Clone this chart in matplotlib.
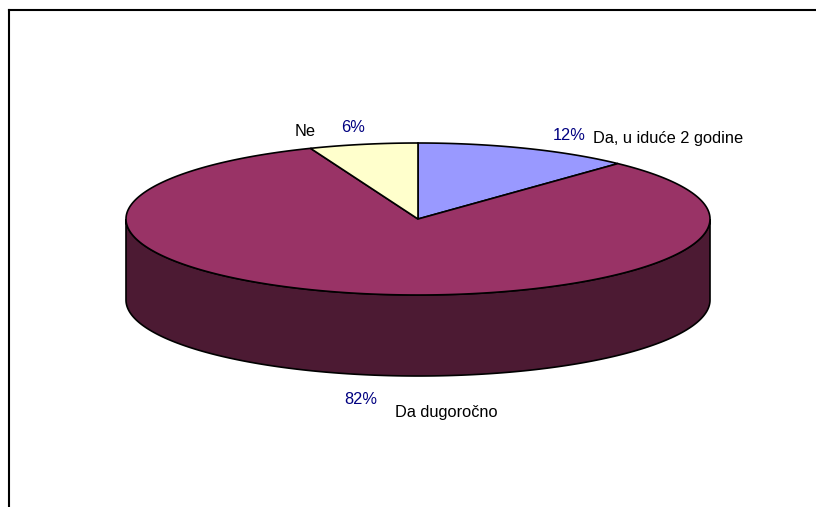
import numpy as np
import matplotlib.pyplot as plt
from matplotlib.patches import Polygon

plt.rcParams['font.family'] = ['Liberation Sans', 'DejaVu Sans']

# data
labels = ['Da, u iduće 2 godine', 'Da dugoročno', 'Ne']
shares = [12, 82, 6]
top_colors = ['#9999FF', '#993366', '#FFFFCC']
side_colors = ['#4D4D80', '#4C1A33', '#808066']

# geometry of the 3d pie (pixel space)
cx, cy = 418, 219
rx, ry = 292, 76
depth = 81

fig = plt.figure(figsize=(8.16, 5.07), dpi=100)
ax = fig.add_axes([0, 0, 1, 1])
ax.set_xlim(0, 816)
ax.set_ylim(507, 0)
ax.axis('off')


def pt(t):
    return cx + rx * np.cos(t), cy - ry * np.sin(t)


# slice angles, start at 12 o'clock going clockwise
fracs = np.array(shares) / np.sum(shares)
ends = np.deg2rad(90) - 2 * np.pi * np.cumsum(fracs)
starts = np.concatenate([[np.deg2rad(90)], ends[:-1]])

# side walls (front half only: angles pi..2pi)
for s, e, col in zip(starts, ends, side_colors):
    lo, hi = e, s
    for k in range(-1, 2):
        a0 = max(lo, np.pi + 2 * np.pi * k)
        a1 = min(hi, 2 * np.pi + 2 * np.pi * k)
        if a1 <= a0:
            continue
        t = np.linspace(a0, a1, 200)
        x, y = pt(t)
        xs = np.concatenate([x, x[::-1]])
        ys = np.concatenate([y, (y + depth)[::-1]])
        ax.add_patch(Polygon(np.column_stack([xs, ys]), closed=True,
                             facecolor=col, edgecolor='black', lw=1.2))

# top faces
for s, e, col in zip(starts, ends, top_colors):
    t = np.linspace(s, e, 300)
    x, y = pt(t)
    xs = np.concatenate([[cx], x])
    ys = np.concatenate([[cy], y])
    ax.add_patch(Polygon(np.column_stack([xs, ys]), closed=True,
                         facecolor=col, edgecolor='black', lw=1.2))

# labels
fs = 11.8
pct = [f'{v}%' for v in shares]
ax.text(553, 136, pct[0], color='#000080', fontsize=fs, va='center')
ax.text(593, 139, labels[0], color='black', fontsize=fs, va='center')
ax.text(344, 400, pct[1], color='#000080', fontsize=fs, va='center')
ax.text(395, 413, labels[1], color='black', fontsize=fs, va='center')
ax.text(341, 128, pct[2], color='#000080', fontsize=fs, va='center')
ax.text(295, 131, labels[2], color='black', fontsize=fs, va='center')

# chart area border (only top and left visible)
ax.plot([8.5, 816], [9.5, 9.5], color='black', lw=1.5)
ax.plot([8.5, 8.5], [9.5, 507], color='black', lw=1.5)

fig.savefig('out.png', dpi=100)
